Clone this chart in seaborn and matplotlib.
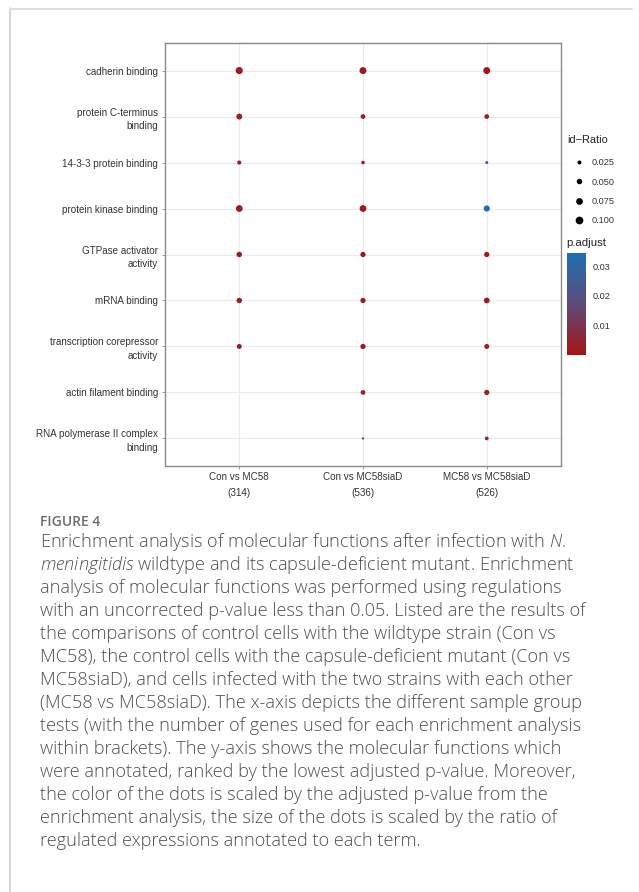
import numpy as np
import pandas as pd
import matplotlib
matplotlib.use("Agg")
import matplotlib.pyplot as plt
import seaborn as sns
from matplotlib.colors import LinearSegmentedColormap, Normalize
from matplotlib.lines import Line2D
from matplotlib.cm import ScalarMappable

terms = ["cadherin binding", "protein C-terminus\nbinding", "14-3-3 protein binding",
         "protein kinase binding", "GTPase activator\nactivity", "mRNA binding",
         "transcription corepressor\nactivity", "actin filament binding",
         "RNA polymerase II complex\nbinding"]
comparisons = ["Con vs MC58\n(314)", "Con vs MC58siaD\n(536)", "MC58 vs MC58siaD\n(526)"]

ratio_con_mc58 = [0.095, 0.065, 0.030, 0.085, 0.055, 0.055, 0.045, np.nan, np.nan]
ratio_con_siad = [0.090, 0.040, 0.022, 0.085, 0.050, 0.050, 0.050, 0.040, 0.008]
ratio_mc58_siad = [0.090, 0.040, 0.015, 0.070, 0.050, 0.060, 0.045, 0.050, 0.025]

padj_con_mc58 = [0.002, 0.003, 0.004, 0.002, 0.003, 0.003, 0.004, np.nan, np.nan]
padj_con_siad = [0.001, 0.002, 0.004, 0.001, 0.002, 0.002, 0.002, 0.003, 0.022]
padj_mc58_siad = [0.001, 0.002, 0.026, 0.034, 0.002, 0.002, 0.003, 0.003, 0.006]

size_breaks = [0.025, 0.050, 0.075, 0.100]
color_ticks = [0.01, 0.02, 0.03]

caption_title = "FIGURE 4"
caption_lines = [
    "Enrichment analysis of molecular functions after infection with $\\it{N.}$",
    "$\\it{meningitidis}$ wildtype and its capsule-deficient mutant. Enrichment",
    "analysis of molecular functions was performed using regulations",
    "with an uncorrected p-value less than 0.05. Listed are the results of",
    "the comparisons of control cells with the wildtype strain (Con vs",
    "MC58), the control cells with the capsule-deficient mutant (Con vs",
    "MC58siaD), and cells infected with the two strains with each other",
    "(MC58 vs MC58siaD). The x-axis depicts the different sample group",
    "tests (with the number of genes used for each enrichment analysis",
    "within brackets). The y-axis shows the molecular functions which",
    "were annotated, ranked by the lowest adjusted p-value. Moreover,",
    "the color of the dots is scaled by the adjusted p-value from the",
    "enrichment analysis, the size of the dots is scaled by the ratio of",
    "regulated expressions annotated to each term.",
]

rows = []
for i, t in enumerate(terms):
    for c, r, p in zip(comparisons,
                       [ratio_con_mc58[i], ratio_con_siad[i], ratio_mc58_siad[i]],
                       [padj_con_mc58[i], padj_con_siad[i], padj_mc58_siad[i]]):
        rows.append({"term": t, "comp": c, "ratio": r, "padj": p})
df = pd.DataFrame(rows)
df["term"] = pd.Categorical(df["term"], categories=terms, ordered=True)
df["comp"] = pd.Categorical(df["comp"], categories=comparisons, ordered=True)
df_plot = df.dropna()

cmap = LinearSegmentedColormap.from_list("rb", ["#A51515", "#5E4A7A", "#1F6FB0"])
hnorm = Normalize(vmin=0.0, vmax=0.0345)
size_range = (2, 28)
snorm = (0.005, 0.1)

sns.set_style("white")
chart_font = ["Liberation Sans", "DejaVu Sans"]
plt.rcParams["font.family"] = chart_font
plt.rcParams["mathtext.fontset"] = "custom"
plt.rcParams["mathtext.it"] = "Open Sans:italic:light"
plt.rcParams["mathtext.rm"] = "Open Sans:light"

fig = plt.figure(figsize=(6.39, 8.92), dpi=100)
ax = fig.add_axes([165/639, 1-466/892, 396/639, 423/892])

sns.scatterplot(data=df_plot, x="comp", y="term", hue="padj", palette=cmap,
                hue_norm=hnorm, size="ratio", sizes=size_range, size_norm=snorm,
                linewidth=0, legend=False, ax=ax, zorder=3)

ax.set_xlim(-0.6, len(comparisons) - 0.4)
ax.set_ylim(len(terms) - 0.4, -0.6)
ax.set_xticks(range(len(comparisons)))
ax.set_xticklabels(comparisons, linespacing=1.75)
ax.set_yticks(range(len(terms)))
ax.set_yticklabels(terms, linespacing=1.42)
ax.set_xlabel("")
ax.set_ylabel("")
ax.grid(True, color="#ebebeb", linewidth=0.8)
ax.set_axisbelow(True)
for s in ax.spines.values():
    s.set_color("#8a8a8a")
    s.set_linewidth(1.0)
ax.tick_params(axis="both", which="both", length=2.5, width=0.6, color="#8a8a8a",
               labelsize=7.1, labelcolor="#333333", pad=2.5, left=True, bottom=True)
ax.tick_params(axis="x", pad=1.5)

# size legend
def msize(v):
    s = size_range[0] + (v - snorm[0]) / (snorm[1] - snorm[0]) * (size_range[1] - size_range[0])
    return np.sqrt(s)
handles = [Line2D([], [], marker="o", linestyle="none", color="black",
                  markersize=msize(v) * 1.05, markeredgewidth=0) for v in size_breaks]
leg = fig.legend(handles, [f"{v:.3f}" for v in size_breaks], loc="upper left",
                 bbox_to_anchor=(565/639, 1-152/892), frameon=False, fontsize=6.6,
                 labelspacing=1.12, handletextpad=0.6, handlelength=1.6,
                 borderpad=0.2)
for t in leg.get_texts():
    t.set_color("#333333")
fig.text(567/639, 1-140/892, "id\u2212Ratio", fontsize=7.9, color="#222222",
         va="center", ha="left")

# colorbar
cax = fig.add_axes([567/639, 1-355/892, 19/639, 102/892])
sm = ScalarMappable(norm=hnorm, cmap=cmap)
cb = fig.colorbar(sm, cax=cax, ticks=color_ticks)
cb.outline.set_visible(False)
cb.ax.tick_params(length=4, width=0.6, color="white", direction="in", labelsize=6.6,
                  labelcolor="#333333", pad=5)
cb.ax.yaxis.set_ticks_position("both")
cb.ax.tick_params(labelleft=False, labelright=True)
cb.ax.set_yticklabels([f"{v:.2f}" for v in color_ticks])
fig.text(566/639, 1-243/892, "p.adjust", fontsize=8.2, color="#222222", va="center", ha="left")

# page frame lines
fig.add_artist(Line2D([9.5/639, 9.5/639], [0, 1-8/892], transform=fig.transFigure,
                      color="#cfcfcf", linewidth=1.2))
fig.add_artist(Line2D([9.5/639, 632/639], [1-8.5/892, 1-8.5/892], transform=fig.transFigure,
                      color="#dedede", linewidth=1.5))

# caption
cap_font = ["Open Sans", "DejaVu Sans"]
fig.text(40/639, 1-522/892, caption_title, fontsize=10, color="#6b6b6b",
         family=cap_font, fontweight="semibold", va="center")
for k, line in enumerate(caption_lines):
    fig.text(40/639, 1-(542 + 23*k)/892, line, fontsize=13.1, color="#4f4f4f",
             family=cap_font, fontweight="light", va="center", ha="left")

fig.savefig("out.png", dpi=100)
